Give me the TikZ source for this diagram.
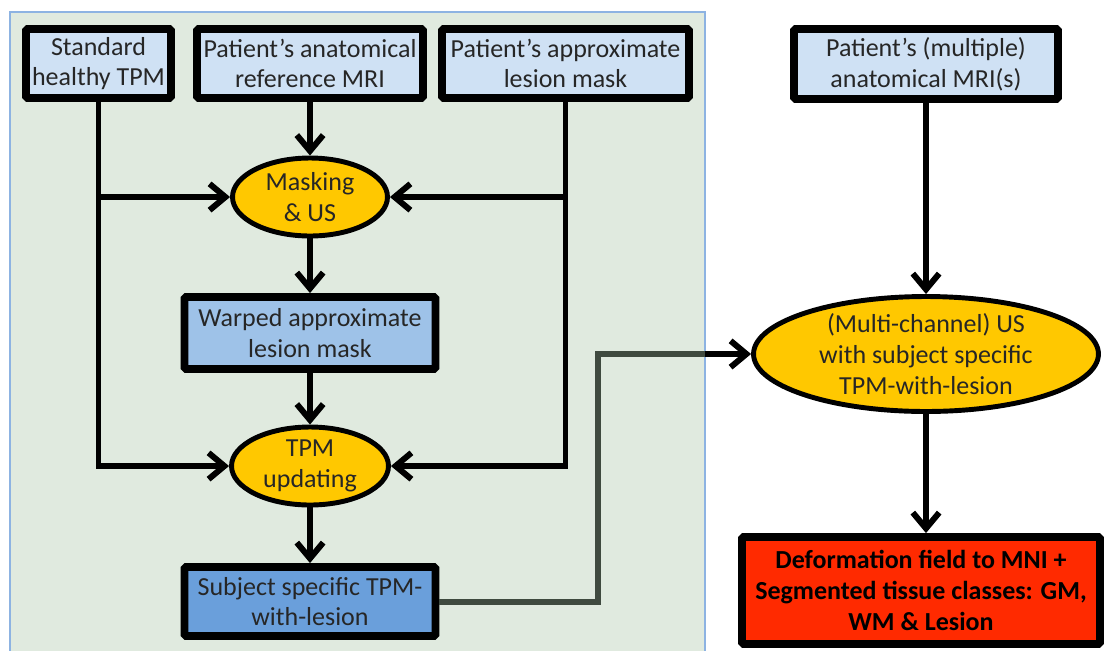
\documentclass[tikz,border=0pt]{standalone}
\usepackage{fontspec}
\setmainfont{Carlito}
\usetikzlibrary{arrows.meta,shapes.geometric,positioning,calc}

\definecolor{panelgreen}{HTML}{E0EADF}
\definecolor{panelline}{HTML}{8DB3E2}
\definecolor{inputblue}{HTML}{CFE1F4}
\definecolor{warpblue}{HTML}{9EC2E8}
\definecolor{subjblue}{HTML}{6A9FDB}
\definecolor{stepgold}{HTML}{FFC800}
\definecolor{outred}{HTML}{FF2A00}
\definecolor{feedgray}{HTML}{3F4A3F}

\begin{document}
\begin{tikzpicture}[x=0.02cm,y=-0.02cm,
		every node/.style={font=\fontsize{14.8}{17.5}\selectfont, align=center, text=black!85},
		databox/.style={draw=black, line width=4.5pt, rounded corners=1pt, inner sep=0pt, minimum height=1.38cm},
		procell/.style={ellipse, draw=black, line width=2.8pt, fill=stepgold, inner sep=0pt},
		conn/.style={line width=3.4pt, -{Straight Barb[length=9pt,width=15pt]}},
		wire/.style={line width=3.4pt}]
		\useasboundingbox (0,0) rectangle (1105,650);
		
		% Panel behind the lesion-TPM steps
		\draw[panelline, fill=panelgreen, line width=0.8pt] (10,12) rectangle (705,660);
		
		% Inputs
		\node[databox, fill=inputblue, minimum width=2.9cm] (std) at (98.5,63.5) {Standard\\healthy TPM};
		\node[databox, fill=inputblue, minimum width=4.52cm] (ref) at (310,63.5) {Patient’s anatomical\\reference MRI};
		\node[databox, fill=inputblue, minimum width=4.94cm] (les) at (565.5,63.5) {Patient’s approximate\\lesion mask};
		\node[databox, fill=inputblue, minimum width=5.28cm, minimum height=1.4cm] (multi) at (926,64) {Patient’s (multiple)\\anatomical MRI(s)};
		
		% Processing steps
		\node[procell, minimum width=3.1cm, minimum height=1.56cm] (mask) at (310,197) {Masking\\\& US};
		\node[databox, fill=warpblue, minimum width=5.02cm, minimum height=1.44cm] (warp) at (310,333) {Warped approximate\\lesion mask};
		\node[procell, minimum width=3.14cm, minimum height=1.56cm] (tpm) at (310,466) {TPM\\updating};
		\node[databox, fill=subjblue, minimum width=5.02cm] (subj) at (310,601.5) {Subject specific TPM-\\with-lesion};
		\node[procell, minimum width=6.9cm, minimum height=2.3cm] (mc) at (926,354) {(Multi-channel) US\\with subject specific\\TPM-with-lesion};
		
		% Output
		\node[databox, fill=outred, minimum width=7.16cm, minimum height=2.14cm, font=\fontsize{14.8}{17.5}\selectfont\bfseries, text=black] (out) at (921,590.5) {Deformation field to MNI +\\Segmented tissue classes: GM,\\WM \& Lesion};
		
		% Connectors
		\draw[conn] (std.south) |- (tpm.west);
		\draw[conn] (std.south |- mask.west) -- (mask.west);
		\draw[conn] (les.south) |- (tpm.east);
		\draw[conn] (les.south |- mask.east) -- (mask.east);
		\draw[conn] (ref.south) -- (mask.north);
		\draw[conn] (mask.south) -- (warp.north);
		\draw[conn] (warp.south) -- (tpm.north);
		\draw[conn] (tpm.south) -- (subj.north);
		\draw[conn] (multi.south) -- (mc.north);
		\draw[conn] (mc.south) -- (mc.south |- out.north);
		
		% Feed of the new TPM into the segmentation
		\coordinate (turn) at (598,354);
		\coordinate (edge) at (705,354);
		\draw[wire, feedgray] (subj.east) -| (turn) -- (edge);
		\draw[conn] (edge) -- (mc.west);
	\end{tikzpicture}
\end{document}
